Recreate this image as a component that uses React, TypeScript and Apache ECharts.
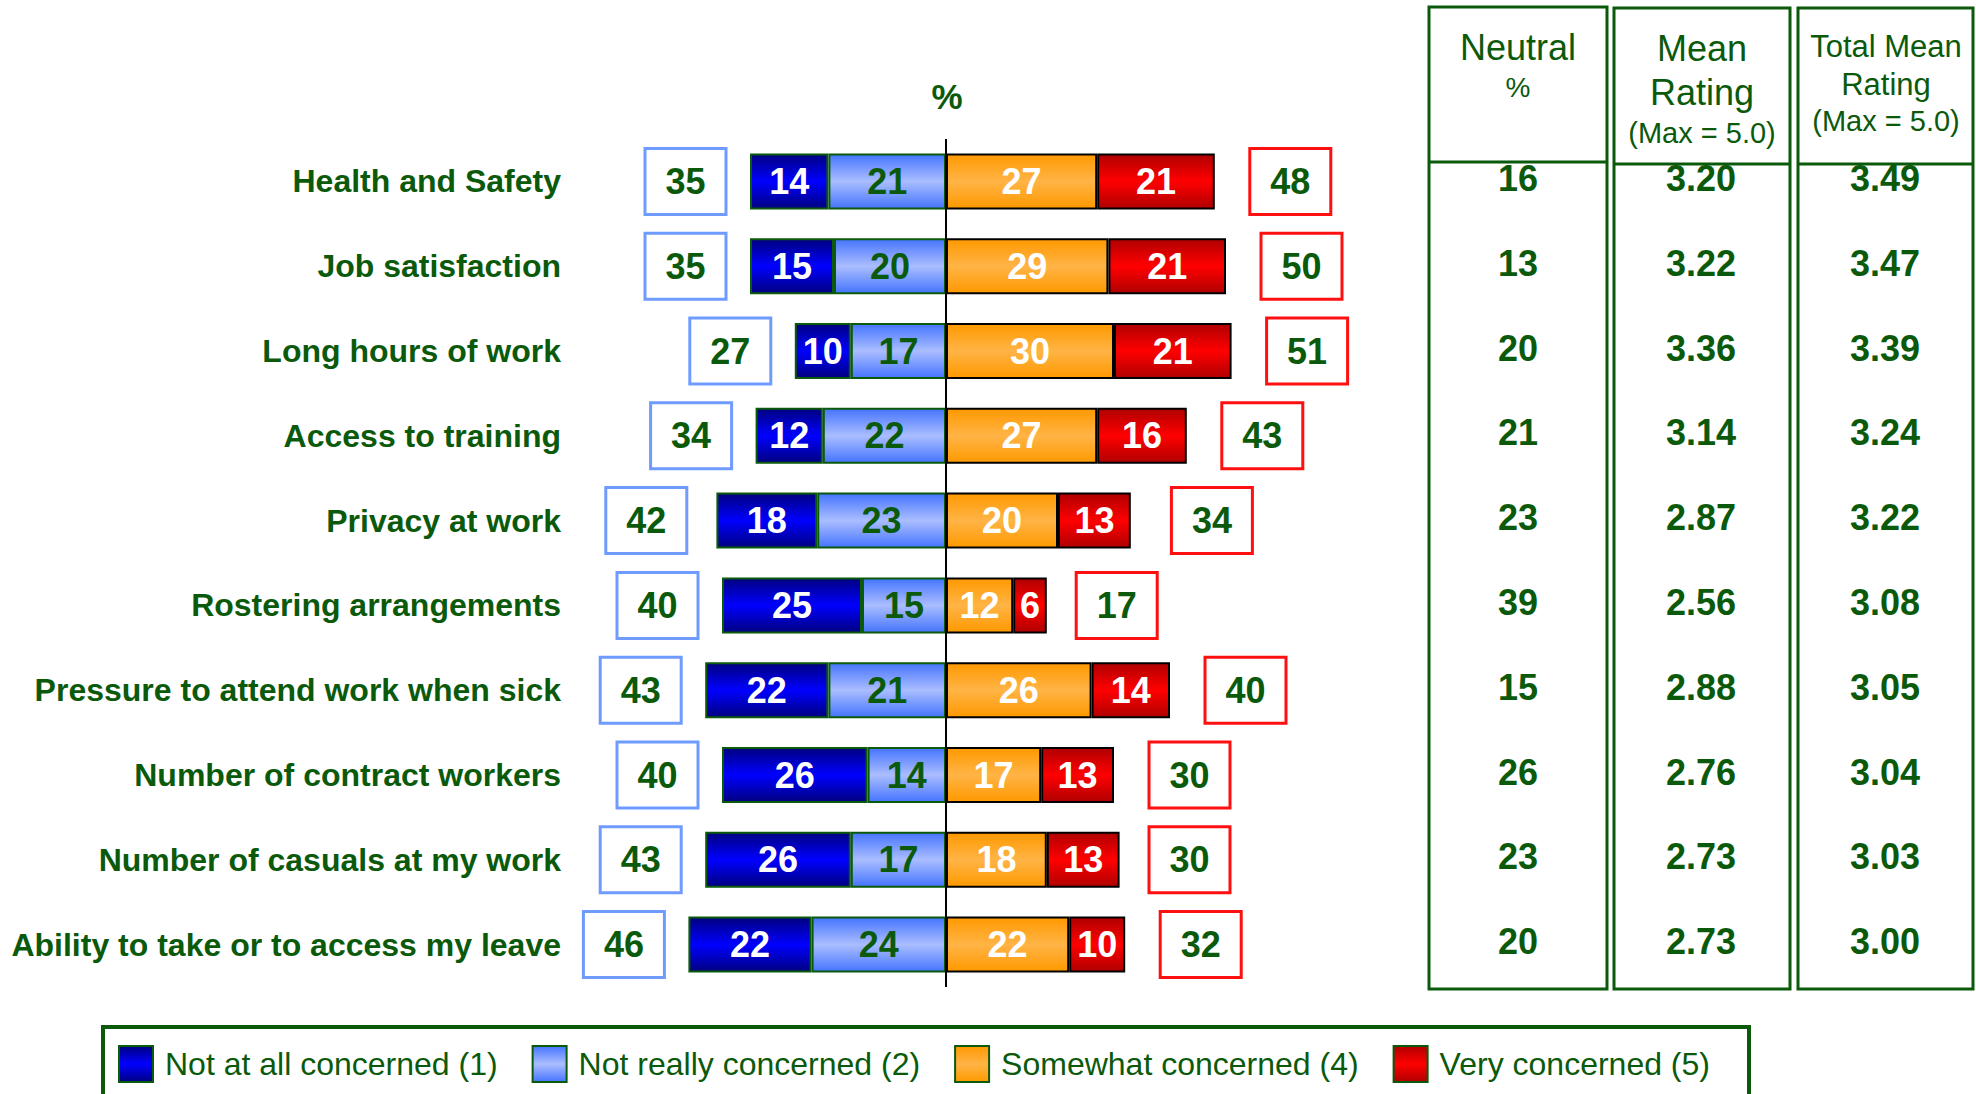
import React, { useEffect, useRef } from "react";
import * as echarts from "echarts";

const categories = [
  "Health and Safety",
  "Job satisfaction",
  "Long hours of work",
  "Access to training",
  "Privacy at work",
  "Rostering arrangements",
  "Pressure to attend work when sick",
  "Number of contract workers",
  "Number of casuals at my work",
  "Ability to take or to access my leave",
];
const notAtAll = [14, 15, 10, 12, 18, 25, 22, 26, 26, 22];
const notReally = [21, 20, 17, 22, 23, 15, 21, 14, 17, 24];
const somewhat = [27, 29, 30, 27, 20, 12, 26, 17, 18, 22];
const very = [21, 21, 21, 16, 13, 6, 14, 13, 13, 10];
const leftTotals = [35, 35, 27, 34, 42, 40, 43, 40, 43, 46];
const rightTotals = [48, 50, 51, 43, 34, 17, 40, 30, 30, 32];
const neutral = ["16", "13", "20", "21", "23", "39", "15", "26", "23", "20"];
const meanRating = ["3.20", "3.22", "3.36", "3.14", "2.87", "2.56", "2.88", "2.76", "2.73", "2.73"];
const totalMean = ["3.49", "3.47", "3.39", "3.24", "3.22", "3.08", "3.05", "3.04", "3.03", "3.00"];
const legendNames = [
  "Not at all concerned (1)",
  "Not really concerned (2)",
  "Somewhat concerned (4)",
  "Very concerned (5)",
];

const GREEN = "#0b5a0b";
const FONT = '"Liberation Sans", Arial, sans-serif';

const grad = (edge: string, mid: string) =>
  new echarts.graphic.LinearGradient(0, 0, 0, 1, [
    { offset: 0, color: edge },
    { offset: 0.5, color: mid },
    { offset: 1, color: edge },
  ]);

export default function App() {
  const ref = useRef<HTMLDivElement>(null);
  useEffect(() => {
    document.body.style.margin = "0";
    const chart = echarts.init(ref.current!, null, { renderer: "svg" });

    const barLabel = (color: string) => ({
      show: true,
      position: "inside",
      formatter: (p: any) => String(Math.abs(p.value)),
      fontSize: 36,
      fontWeight: "bold",
      fontFamily: FONT,
      color,
    });

    const tableAxis = (offset: number, values: string[]) => ({
      type: "category",
      data: categories,
      inverse: true,
      position: "right",
      offset,
      axisLine: { show: false },
      axisTick: { show: false },
      axisLabel: {
        margin: 0,
        align: "center",
        verticalAlign: "bottom",
        interval: 0,
        formatter: (_v: string, i: number) => values[i],
        fontSize: 36,
        lineHeight: 36,
        fontWeight: "bold",
        fontFamily: FONT,
        color: GREEN,
        padding: [0, 0, -15, 0],
      },
    });

    const boxSeries = (vals: number[], sign: number, stroke: string, shift: number) => ({
      type: "custom",
      z: 10,
      data: vals.map((v, i) => [sign * v, i]),
      encode: { x: 0, y: 1 },
      renderItem: (_params: any, api: any) => {
        const v = api.value(0);
        const p = api.coord([v, api.value(1)]);
        const cx = p[0] + shift;
        return {
          type: "rect",
          shape: { x: cx - 40, y: p[1] - 33, width: 81, height: 66 },
          style: { fill: "#ffffff", stroke, lineWidth: 3 },
          textContent: {
            type: "text",
            style: {
              text: String(Math.abs(v)),
              fill: GREEN,
              font: `bold 36px ${FONT}`,
            },
          },
          textConfig: { position: "inside" },
        };
      },
    });

    const headerText = (text: string, x: number, y: number, size: number) => ({
      type: "text",
      x,
      y,
      style: {
        text,
        fill: GREEN,
        font: `${size}px ${FONT}`,
        textAlign: "center",
        textVerticalAlign: "middle",
      },
    });

    const col = (x: number, w: number, top: number, divY: number) => [
      {
        type: "rect",
        shape: { x, y: top, width: w, height: 989 - top },
        style: { fill: "none", stroke: GREEN, lineWidth: 3 },
      },
      {
        type: "line",
        shape: { x1: x, y1: divY, x2: x + w, y2: divY },
        style: { stroke: GREEN, lineWidth: 3 },
      },
    ];

    const option: any = {
      animation: false,
      title: {
        text: "%",
        left: 942,
        top: 74,
        textAlign: "center",
        textStyle: { fontSize: 35, fontWeight: "bold", color: GREEN, fontFamily: FONT },
      },
      legend: {
        data: legendNames,
        left: 118,
        top: 1045,
        padding: 0,
        icon: "rect",
        itemWidth: 34,
        itemHeight: 36,
        itemGap: 34,
        itemStyle: { borderColor: GREEN, borderWidth: 2 },
        textStyle: { fontSize: 32, color: GREEN, fontFamily: FONT, padding: [0, 0, 0, 7] },
      },
      grid: { left: 610, width: 672, top: 139, height: 848 },
      xAxis: { type: "value", min: -60, max: 60, show: false },
      yAxis: [
        {
          type: "category",
          data: categories,
          inverse: true,
          axisLine: { show: false },
          axisTick: { show: false },
          axisLabel: {
            margin: 49,
            interval: 0,
            fontSize: 32,
            fontWeight: "bold",
            fontFamily: FONT,
            color: GREEN,
          },
        },
        tableAxis(236, neutral),
        tableAxis(419, meanRating),
        tableAxis(603, totalMean),
      ],
      series: [
        {
          name: legendNames[1],
          type: "bar",
          stack: "a",
          barWidth: 56,
          data: notReally.map((v) => -v),
          itemStyle: { color: grad("#4574ff", "#aabdff"), borderColor: GREEN, borderWidth: 2 },
          label: barLabel(GREEN),
          markLine: {
            silent: true,
            symbol: "none",
            label: { show: false },
            lineStyle: { color: "#000", width: 2, type: "solid" },
            data: [{ xAxis: 0 }],
          },
        },
        {
          name: legendNames[0],
          type: "bar",
          stack: "a",
          barWidth: 56,
          data: notAtAll.map((v) => -v),
          itemStyle: { color: grad("#000080", "#0000ff"), borderColor: GREEN, borderWidth: 2 },
          label: barLabel("#ffffff"),
        },
        {
          name: legendNames[2],
          type: "bar",
          stack: "a",
          barWidth: 56,
          data: somewhat,
          itemStyle: { color: grad("#ff9900", "#ffb446"), borderColor: "#000", borderWidth: 2 },
          label: barLabel("#ffffff"),
        },
        {
          name: legendNames[3],
          type: "bar",
          stack: "a",
          barWidth: 56,
          data: very,
          itemStyle: { color: grad("#b00000", "#ff0000"), borderColor: "#000", borderWidth: 2 },
          label: barLabel("#ffffff"),
        },
        boxSeries(leftTotals, -1, "#6f9bff", -65),
        boxSeries(rightTotals, 1, "#ff1010", 75),
      ],
      graphic: [
        {
          type: "rect",
          shape: { x: 103, y: 1027, width: 1646, height: 120 },
          style: { fill: "none", stroke: GREEN, lineWidth: 4 },
        },
        ...col(1429, 178, 7, 162),
        ...col(1614, 176, 8, 164),
        ...col(1798, 175, 8, 164),
        headerText("Neutral", 1518, 47, 36),
        headerText("%", 1518, 87, 28),
        headerText("Mean", 1702, 48, 36),
        headerText("Rating", 1702, 92, 36),
        headerText("(Max = 5.0)", 1702, 133, 29),
        headerText("Total Mean", 1886, 46, 31),
        headerText("Rating", 1886, 84, 31),
        headerText("(Max = 5.0)", 1886, 121, 29),
      ],
    };
    chart.setOption(option);
    return () => chart.dispose();
  }, []);
  return (
    <div
      ref={ref}
      style={{ position: "absolute", left: 0, top: 0, width: 1976, height: 1094, background: "#fff" }}
    />
  );
}
